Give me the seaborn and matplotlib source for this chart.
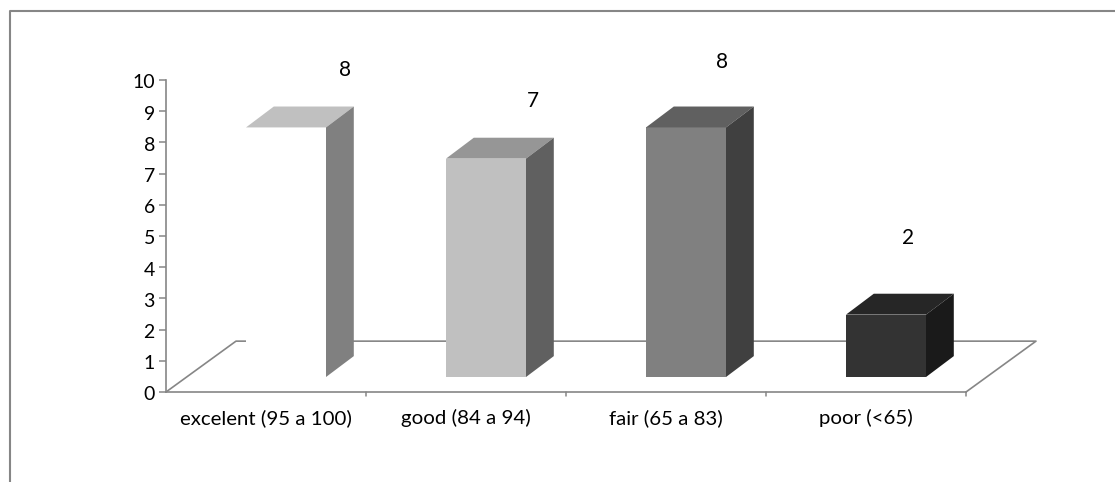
import matplotlib
matplotlib.use('Agg')
import matplotlib.pyplot as plt
from matplotlib.patches import Polygon
from matplotlib.transforms import ScaledTranslation
import seaborn as sns

categories = ['excelent (95 a 100)', 'good (84 a 94)', 'fair (65 a 83)', 'poor (<65)']
values = [8, 7, 8, 2]
y_ticks = [0, 1, 2, 3, 4, 5, 6, 7, 8, 9, 10]

front_colors = ['#ffffff', '#c0c0c0', '#808080', '#333333']
top_colors = ['#c0c0c0', '#969696', '#606060', '#262626']
side_colors = ['#808080', '#606060', '#404040', '#1a1a1a']
# data labels were dragged by hand in the original, pixel offsets from bar top
label_offsets = [(59, 57), (47, 58), (36, 65), (22, 77)]

W, H = 1115, 482
GREY = '#868686'

sns.set_style('white')
plt.rcParams['font.family'] = ['Lato', 'DejaVu Sans']

fig = plt.figure(figsize=(W / 100, H / 100), dpi=100)
ax = fig.add_axes([166 / W, 1 - 392 / H, 800 / W, 312 / H])

sns.barplot(x=categories, y=values, hue=categories, palette=front_colors, legend=False,
            width=0.4, bottom=0.48, saturation=1, linewidth=0, ax=ax)

ax.set_xlim(-0.5, 3.5)
ax.set_ylim(0, 10)
ax.set_yticks(y_ticks)
ax.tick_params(axis='y', left=True, length=5, width=1.1, color=GREY, labelsize=14,
               labelcolor='black', pad=3)
ax.tick_params(axis='x', bottom=False, labelsize=14.7, labelcolor='black', pad=9)
ax.set_xlabel('')
ax.set_ylabel('')
sns.despine(ax=ax, top=True, right=True)
for side in ['left', 'bottom']:
    ax.spines[side].set_color(GREY)
    ax.spines[side].set_linewidth(1.2)

# y labels sit a touch below their ticks in the original
nudge = ScaledTranslation(0, -1.5 / 100, fig.dpi_scale_trans)
for label in ax.get_yticklabels():
    label.set_transform(label.get_transform() + nudge)

# category ticks between groups, on the front edge of the floor
for x in [0.5, 1.5, 2.5, 3.5]:
    ax.plot([x, x], [0, -0.13], color=GREY, lw=1.1, clip_on=False, zorder=1)

# floor of the 3d box
dx_floor, dy_floor = 0.35, 1.63
ax.plot([-0.5, -0.5 + dx_floor, 3.5 + dx_floor, 3.5],
        [0, dy_floor, dy_floor, 0], color=GREY, lw=1.2, clip_on=False, zorder=1)

# bars sit to the back of the category slot, then get their depth faces
dx, dy = 0.139, 0.67
bars = list(ax.patches)
for i, bar in enumerate(bars):
    bar.set_x(bar.get_x() + 0.1)
    bar.set_zorder(3)
    x0 = bar.get_x()
    x1 = x0 + bar.get_width()
    y0 = bar.get_y()
    y1 = y0 + bar.get_height()
    ax.add_patch(Polygon([(x0, y1), (x0 + dx, y1 + dy), (x1 + dx, y1 + dy), (x1, y1)],
                         closed=True, fc=top_colors[i], ec='none', zorder=3, clip_on=False))
    ax.add_patch(Polygon([(x1, y0), (x1 + dx, y0 + dy), (x1 + dx, y1 + dy), (x1, y1)],
                         closed=True, fc=side_colors[i], ec='none', zorder=3, clip_on=False))
    ax.annotate(str(values[i]), xy=((x0 + x1) / 2, y1), xytext=label_offsets[i],
                textcoords='offset pixels', ha='center', va='center', fontsize=15,
                color='black', annotation_clip=False, zorder=4)

# outer chart frame, only left and top are in the picture
fx = [10 / W, 10 / W, 1]
fy = [0, 1 - 11 / H, 1 - 11 / H]
fig.add_artist(plt.Line2D(fx, fy, color=GREY, lw=1.5))

fig.savefig('out.png', dpi=100)
